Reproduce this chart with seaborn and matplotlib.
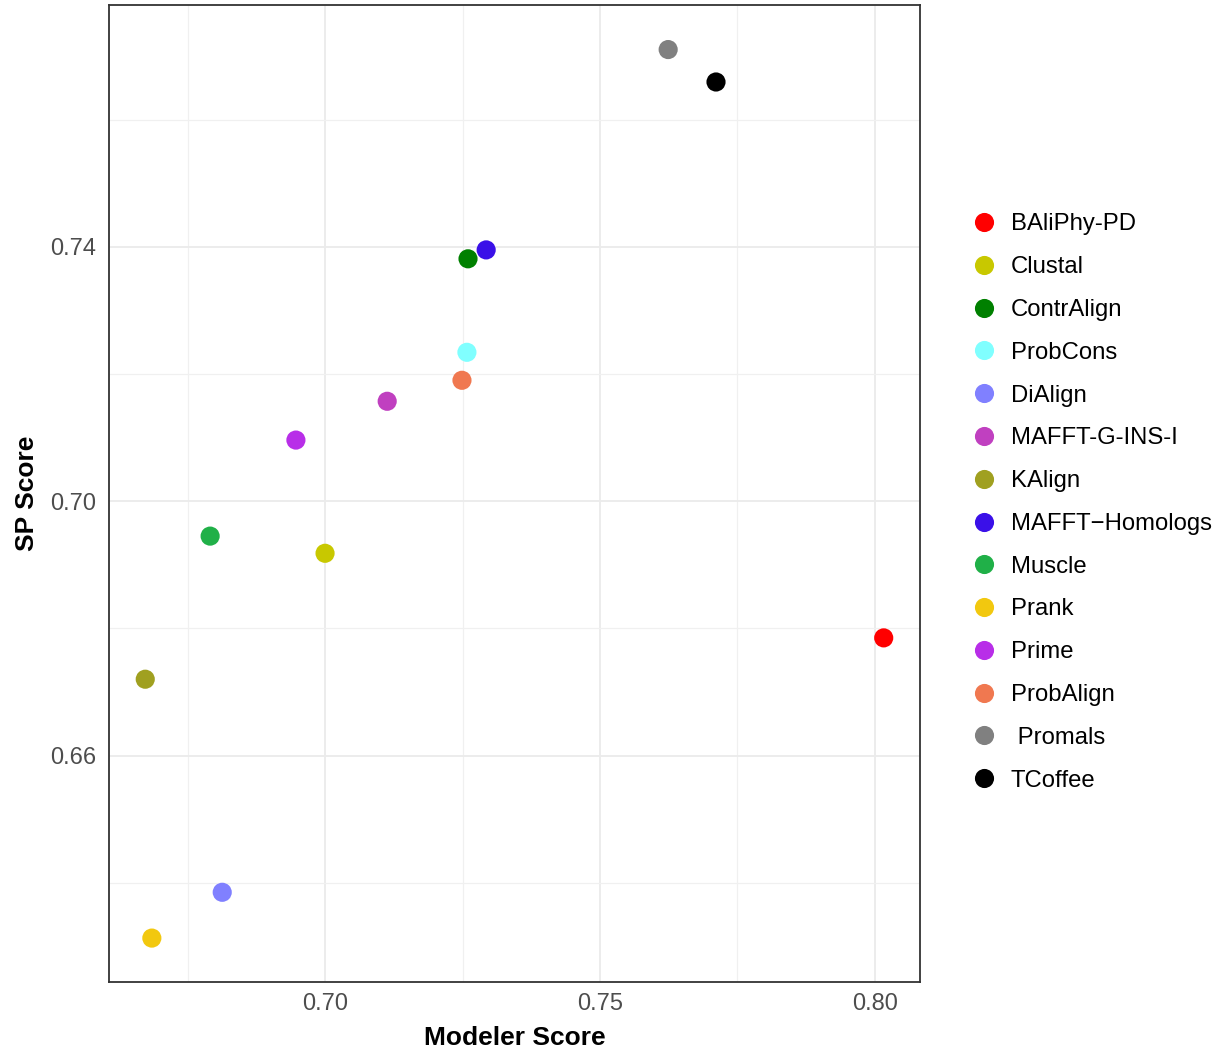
import pandas as pd
import matplotlib.pyplot as plt
import seaborn as sns
from matplotlib.ticker import MultipleLocator

methods = ['BAliPhy-PD', 'Clustal', 'ContrAlign', 'ProbCons', 'DiAlign',
           'MAFFT-G-INS-I', 'KAlign', 'MAFFT\u2212Homologs', 'Muscle', 'Prank',
           'Prime', 'ProbAlign', ' Promals', 'TCoffee']
modeler = [0.8016, 0.7000, 0.7260, 0.7258, 0.6813, 0.7113, 0.6673, 0.7293,
           0.6791, 0.6685, 0.6947, 0.7249, 0.7624, 0.7711]
sp = [0.6785, 0.6918, 0.7381, 0.7234, 0.6385, 0.7157, 0.6720, 0.7395,
      0.6945, 0.6313, 0.7096, 0.7190, 0.7710, 0.7659]
colors = ['#FF0000', '#C8C800', '#008000', '#80FFFF', '#8080FF', '#C040C0',
          '#A0A020', '#3A10E8', '#20B048', '#F2C80F', '#B82EE8', '#F07850',
          '#808080', '#000000']

df = pd.DataFrame({'Method': methods, 'Modeler': modeler, 'SP': sp})

sns.set_style('white')
plt.rcParams['font.family'] = ['Liberation Sans', 'DejaVu Sans']

fig = plt.figure(figsize=(12.27, 10.49), dpi=100)
ax = fig.add_axes([0.0888, 0.0639, 0.661, 0.9313])

sns.scatterplot(data=df, x='Modeler', y='SP', hue='Method',
                palette=dict(zip(methods, colors)), hue_order=methods,
                s=190, linewidth=0, ax=ax, zorder=3)

ax.set_xlim(0.6607, 0.8082)
ax.set_ylim(0.6244, 0.778)
ax.set_xticks([0.70, 0.75, 0.80])
ax.set_xticklabels(['0.70', '0.75', '0.80'])
ax.set_yticks([0.66, 0.70, 0.74])
ax.set_yticklabels(['0.66', '0.70', '0.74'])
ax.xaxis.set_minor_locator(MultipleLocator(0.025))
ax.yaxis.set_minor_locator(MultipleLocator(0.02))

# theme_bw style grid
ax.grid(which='major', color='#EBEBEB', linewidth=1.3, zorder=0)
ax.grid(which='minor', color='#F0F0F0', linewidth=0.9, zorder=0)
ax.set_axisbelow(True)
for s in ax.spines.values():
    s.set_color('#333333')
    s.set_linewidth(1.3)

ax.tick_params(axis='both', which='major', length=4, width=1.1, color='#333333',
               labelsize=17, labelcolor='#4D4D4D', pad=4)
ax.tick_params(axis='y', which='major', pad=5)
ax.tick_params(axis='both', which='minor', length=0)

ax.set_xlabel('Modeler Score', fontsize=19, fontweight='bold', color='black', labelpad=8)
ax.set_ylabel('SP Score', fontsize=19, fontweight='bold', color='black', labelpad=8)

handles, labels = ax.get_legend_handles_labels()
leg = ax.legend(handles, labels, loc='center left', bbox_to_anchor=(1.038, 0.4908),
                frameon=False, fontsize=17.2, labelspacing=0.87,
                handletextpad=0.1, markerscale=1.0, borderaxespad=0)
for t in leg.get_texts():
    t.set_color('black')

plt.savefig('out.png', dpi=100)
